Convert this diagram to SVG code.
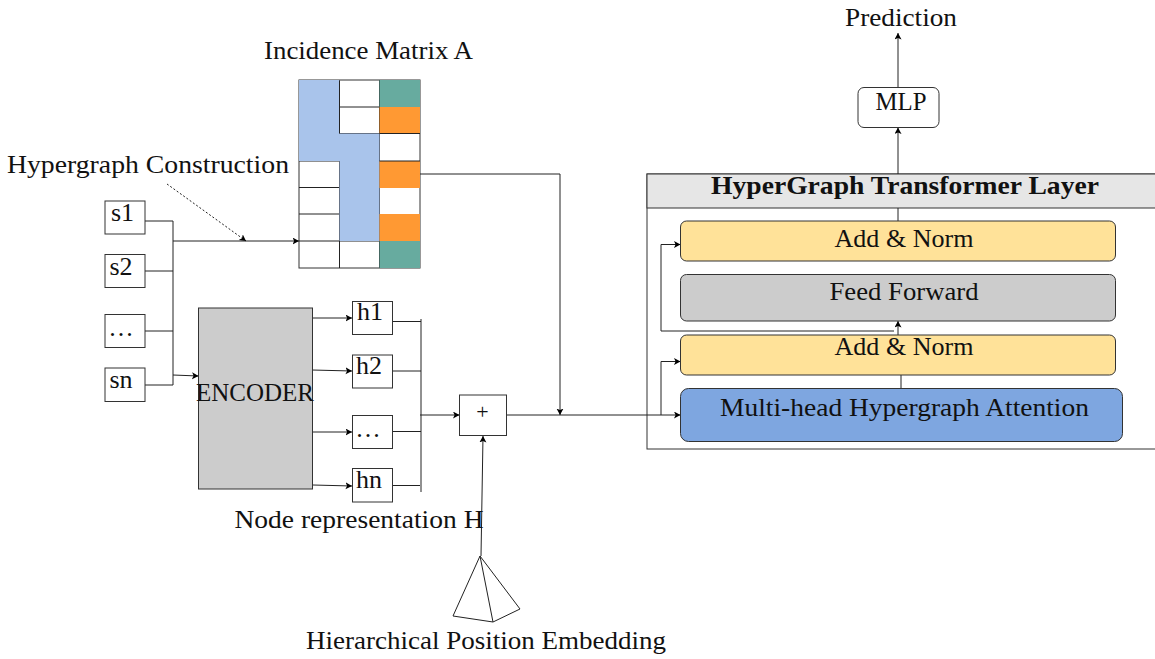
<svg xmlns="http://www.w3.org/2000/svg" width="1155" height="659" viewBox="0 0 1155 659">
<defs>
<marker id="a" markerUnits="userSpaceOnUse" markerWidth="8" markerHeight="8" refX="6.5" refY="3.5" orient="auto"><path d="M0 0L6.500 3.500L0 7L1.600 3.500Z" fill="#000"/></marker>
</defs>
<style>
text{font-family:"Liberation Serif","Times New Roman",serif;font-size:26px;fill:#111}
.b{fill:#fff;stroke:#333;stroke-width:1}
.c{fill:none;stroke:#222;stroke-width:1}
.m{marker-end:url(#a)}
.g{stroke:#222;stroke-width:1;fill:none}
.d{letter-spacing:2px}
</style>
<rect width="1155" height="659" fill="#fff"/>
<g id="layer">
<rect x="647" y="174" width="520" height="275" fill="#fff" stroke="#333"/>
<rect x="647" y="174" width="520" height="34" fill="#e6e6e6" stroke="#333"/>
<text x="905" y="194" text-anchor="middle" font-weight="700" textLength="388" lengthAdjust="spacingAndGlyphs">HyperGraph Transformer Layer</text>
</g>
<g id="matrix">
<rect x="299" y="80" width="121" height="188" class="b"/>
<path class="g" d="M299 161H379M299 187.500H379M299 214H379M299 241H420M339.500 80V268M379.500 80V268M339 107H379M339 133.500H420"/>
<path fill="#a9c4eb" d="M299 80H339.500V133.500H379.500V241H339.500V161H299Z"/>
<rect x="379.500" y="80" width="40.500" height="27" fill="#67ab9f"/>
<rect x="379.500" y="107" width="40.500" height="26.500" fill="#ff9933"/>
<rect x="379.500" y="161" width="40.500" height="27" fill="#ff9933"/>
<rect x="379.500" y="214" width="40.500" height="27" fill="#ff9933"/>
<rect x="379.500" y="241" width="40.500" height="27" fill="#67ab9f"/>
<path class="g" d="M379.500 133.500H420M379.500 161H420M339.500 133.500V80.500"/>
</g>
<g id="connectors">
<path class="c" d="M145 221H173M145 271H173M145 331H173M145 385H173M173 221V385"/>
<path class="c m" d="M173 241H299"/>
<path class="c m" d="M173 375L198.500 376"/>
<path class="c m" stroke-dasharray="2 2" d="M167 184L246 241"/>
<path class="c m" d="M313 318L352 318"/>
<path class="c m" d="M312 370L352 371"/>
<path class="c m" d="M313 432H352"/>
<path class="c m" d="M313 485L352 486"/>
<path class="c" d="M393 321.500H421M393 371H421M393 431.500H421M393 485.500H420M421 319V492"/>
<path class="c m" d="M420 415H459.500"/>
<path class="c m" d="M481 556L483 436"/>
<path class="c" d="M507 415H661"/>
<path class="c m" d="M420 174H560V415"/>
<path class="c m" d="M661 415H680.500"/>
<path class="c m" d="M661 415V361.500H680.500"/>
<path class="c m" d="M661 331V244.500H680.500"/>
<path class="c m" d="M898 174V127.500"/>
<path class="c m" d="M898 88V33"/>
<path class="c" d="M898 208V221M901 375V388.500M661 331H894"/>
<path class="c m" d="M898 335V321"/>
</g>
<g id="s1"><rect x="105" y="201" width="40" height="33" class="b"/><text x="122.500" y="221" text-anchor="middle">s1</text></g>
<g id="s2"><rect x="105" y="254.500" width="40" height="33" class="b"/><text x="121" y="275" text-anchor="middle">s2</text></g>
<g id="s3"><rect x="105" y="314.500" width="40" height="33" class="b"/><text x="122" y="336" text-anchor="middle" class="d">...</text></g>
<g id="sn"><rect x="105" y="368" width="40" height="33.500" class="b"/><text x="121" y="388" text-anchor="middle">sn</text></g>
<g id="encoder"><rect x="198.500" y="308" width="114" height="181" fill="#ccc" stroke="#333"/><text x="255" y="401" text-anchor="middle" textLength="118" lengthAdjust="spacingAndGlyphs">ENCODER</text></g>
<g id="h1"><rect x="352.500" y="301.500" width="40" height="33" class="b"/><text x="370" y="320" text-anchor="middle">h1</text></g>
<g id="h2"><rect x="352.500" y="355" width="40" height="33" class="b"/><text x="369" y="374" text-anchor="middle">h2</text></g>
<g id="h3"><rect x="352.500" y="415.500" width="40" height="33" class="b"/><text x="369" y="437" text-anchor="middle" class="d">...</text></g>
<g id="hn"><rect x="352.500" y="468.500" width="40" height="33.500" class="b"/><text x="369" y="488" text-anchor="middle">hn</text></g>
<g id="plus"><rect x="459.500" y="395" width="47" height="40.500" class="b"/><text x="482.500" y="419" text-anchor="middle" style="font-size:22px">+</text></g>
<g id="pyramid"><path d="M480 556L453 616L493 622L520 609ZM480 556L493 622" fill="#fff" stroke="#222" stroke-width="1" stroke-linejoin="round"/></g>
<g id="addnorm2"><rect x="680.500" y="221" width="435" height="40" rx="6" fill="#ffe299" stroke="#333"/><text x="904" y="247" text-anchor="middle" textLength="139" lengthAdjust="spacingAndGlyphs">Add &amp; Norm</text></g>
<g id="ff"><rect x="680.500" y="274.500" width="435" height="46.500" rx="6" fill="#ccc" stroke="#333"/><text x="904" y="300" text-anchor="middle" textLength="149" lengthAdjust="spacingAndGlyphs">Feed Forward</text></g>
<g id="addnorm1"><rect x="680.500" y="335" width="435" height="40" rx="6" fill="#ffe299" stroke="#333"/><text x="904" y="355" text-anchor="middle" textLength="139" lengthAdjust="spacingAndGlyphs">Add &amp; Norm</text></g>
<g id="mha"><rect x="680.500" y="388.500" width="442" height="53" rx="8" fill="#7ea6e0" stroke="#333"/><text x="904.500" y="416" text-anchor="middle" textLength="369" lengthAdjust="spacingAndGlyphs">Multi-head Hypergraph Attention</text></g>
<g id="mlp"><rect x="858" y="87.500" width="81" height="40" rx="6" class="b"/><text x="901" y="110" text-anchor="middle" textLength="51" lengthAdjust="spacingAndGlyphs">MLP</text></g>
<g id="labels">
<text x="901" y="26" text-anchor="middle" textLength="112" lengthAdjust="spacingAndGlyphs">Prediction</text>
<text x="368.500" y="59" text-anchor="middle" textLength="209" lengthAdjust="spacingAndGlyphs">Incidence Matrix A</text>
<text x="148" y="173" text-anchor="middle" textLength="282" lengthAdjust="spacingAndGlyphs">Hypergraph Construction</text>
<text x="359" y="528" text-anchor="middle" textLength="249" lengthAdjust="spacingAndGlyphs">Node representation H</text>
<text x="486" y="649" text-anchor="middle" textLength="360" lengthAdjust="spacingAndGlyphs">Hierarchical Position Embedding</text>
</g>
</svg>
